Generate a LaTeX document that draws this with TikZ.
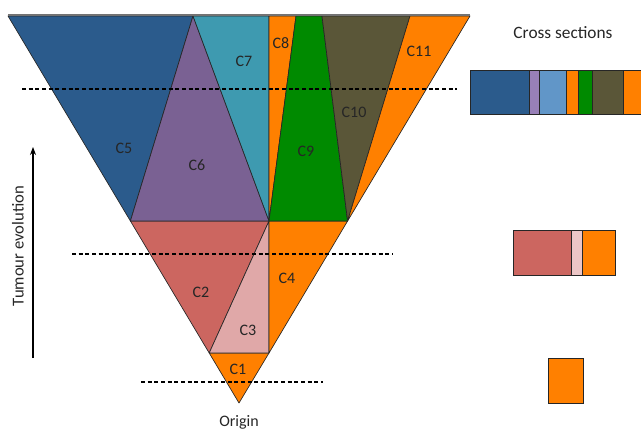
\documentclass[tikz,border=0pt]{standalone}
\usepackage{fontspec}
\setmainfont{Carlito}
\usetikzlibrary{positioning}
\usetikzlibrary{arrows.meta}

\definecolor{cloneBlue}{RGB}{43,91,140}
\definecolor{clonePurple}{RGB}{122,97,147}
\definecolor{cloneTeal}{RGB}{62,154,176}
\definecolor{cloneOrange}{RGB}{255,128,0}
\definecolor{cloneGreen}{RGB}{0,138,0}
\definecolor{cloneOlive}{RGB}{90,86,56}
\definecolor{cloneRed}{RGB}{204,102,96}
\definecolor{clonePink}{RGB}{224,168,168}
\definecolor{barPurple}{RGB}{152,128,184}
\definecolor{barSky}{RGB}{97,150,200}
\definecolor{barPink}{RGB}{236,198,198}

\tikzset{
  clone/.style={draw=black!85, line width=0.5pt, line join=round},
  cut/.style={line width=0.9pt, dash pattern=on 3pt off 2pt},
  lbl/.style={inner sep=0.75pt, text=black!85, font=\fontsize{12}{14}\selectfont},
  seg/.style={draw=black!85, line width=0.5pt}
}

\begin{document}
\begin{tikzpicture}[x=0.75pt,y=0.75pt,yscale=-1,xscale=1]
  \useasboundingbox (0,0) rectangle (641,431);
  % corner points of the cone
  \coordinate (TL) at (8,16);
  \coordinate (TR) at (470,16);
  \coordinate (O) at (239,403);
  \coordinate (tA) at (193,16);
  \coordinate (tM) at (269,16);
  \coordinate (tB) at (296,16);
  \coordinate (tC) at (322,16);
  \coordinate (tD) at (410,16);
  \coordinate (L2) at (130.4,221);
  \coordinate (M2) at (269,221);
  \coordinate (R2) at (347.6,221);
  \coordinate (L3) at (209.2,353);
  \coordinate (M3) at (269,353);

  %Shapes: lower clones
  \draw [clone, fill=cloneOrange] (L3) -- (M3) -- (O) -- cycle;
  \draw [clone, fill=cloneRed] (L2) -- (M2) -- (L3) -- cycle;
  \draw [clone, fill=clonePink] (M2) -- (M3) -- (L3) -- cycle;
  \draw [clone, fill=cloneOrange] (M2) -- (R2) -- (M3) -- cycle;
  %Shapes: upper clones
  \draw [clone, fill=cloneBlue] (TL) -- (tA) -- (L2) -- cycle;
  \draw [clone, fill=clonePurple] (tA) -- (M2) -- (L2) -- cycle;
  \draw [clone, fill=cloneTeal] (tA) -- (tM) -- (M2) -- cycle;
  \draw [clone, fill=cloneOrange] (tM) -- (tB) -- (M2) -- cycle;
  \draw [clone, fill=cloneGreen] (tB) -- (tC) -- (R2) -- (M2) -- cycle;
  \draw [clone, fill=cloneOlive] (tC) -- (tD) -- (R2) -- cycle;
  \draw [clone, fill=cloneOrange] (tD) -- (TR) -- (R2) -- cycle;
  %Top rim
  \draw [black!55, line width=1.2pt] ([yshift=-0.6]TL) -- ([yshift=-0.6]TR);

  %Dashed cuts
  \coordinate (cut1a) at (22,89);
  \coordinate (cut1b) at (457,89);
  \coordinate (cut2a) at (72,254);
  \coordinate (cut2b) at (393,254);
  \coordinate (cut3a) at (141,382);
  \coordinate (cut3b) at (323,382);
  \draw [cut] (cut1a) -- (cut1b);
  \draw [cut] (cut2a) -- (cut2b);
  \draw [cut] (cut3a) -- (cut3b);

  % Text Node
  \node [lbl] (c1) at (238,369) {C1};
  \node [lbl] (c2) at (201,292) {C2};
  \node [lbl] (c3) at (248,330) {C3};
  \node [lbl] (c4) at (287,278) {C4};
  \node [lbl] (c5) at (124,148) {C5};
  \node [lbl] (c6) at (197,165) {C6};
  \node [lbl] (c7) at (244,61) {C7};
  \node [lbl] (c8) at (281,43) {C8};
  \node [lbl] (c9) at (306,151) {C9};
  \node [lbl] (c10) at (354,112) {C10};
  \node [lbl] (c11) at (419,51) {C11};
  % Text Node
  \node [lbl, font=\fontsize{12}{14}\selectfont] (origin) at (239,422) {Origin};
  \node [lbl, font=\fontsize{13}{15}\selectfont] (xsec) at (563,33) {Cross sections};
  \node [lbl, font=\fontsize{12.5}{15}\selectfont, rotate=90] (evo) at (18,246) {Tumour evolution};

  %Evolution arrow
  \coordinate (evoS) at (33,358);
  \coordinate (evoE) at (33,147);
  \draw [line width=0.8pt, -{Stealth[length=6pt,width=4.5pt]}] (evoS) -- (evoE);

  %Cross section bars
  \draw [seg, fill=cloneBlue] (470,70) rectangle (529,114);
  \draw [seg, fill=barPurple] (529,70) rectangle (539,114);
  \draw [seg, fill=barSky] (539,70) rectangle (566,114);
  \draw [seg, fill=cloneOrange] (566,70) rectangle (578,114);
  \draw [seg, fill=cloneGreen] (578,70) rectangle (592,114);
  \draw [seg, fill=cloneOlive] (592,70) rectangle (623,114);
  \draw [seg, fill=cloneOrange] (623,70) rectangle (642,114);

  \draw [seg, fill=cloneRed] (513,230) rectangle (571,275);
  \draw [seg, fill=barPink] (571,230) rectangle (582,275);
  \draw [seg, fill=cloneOrange] (582,230) rectangle (615,275);

  \draw [seg, fill=cloneOrange] (548,358) rectangle (583,403);
\end{tikzpicture}
\end{document}
